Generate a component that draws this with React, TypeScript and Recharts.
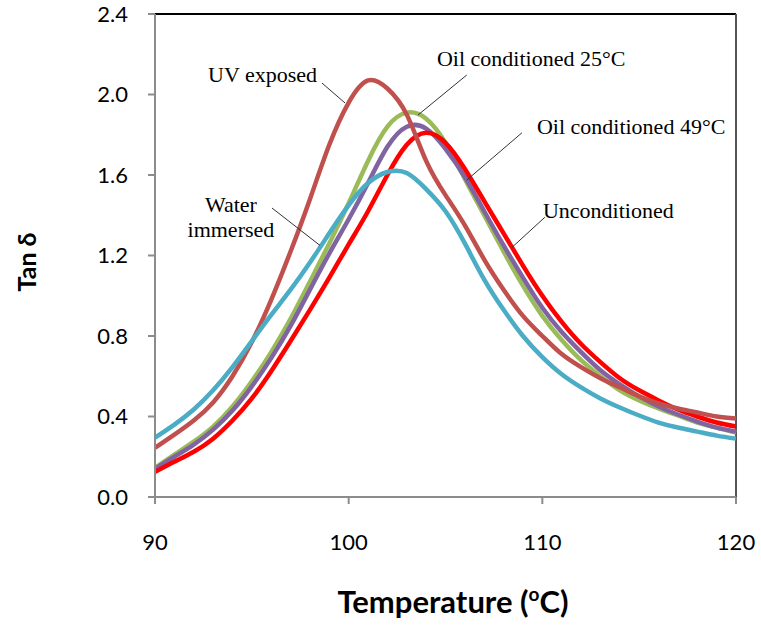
import { LineChart, Line, XAxis, YAxis, ReferenceLine, ReferenceDot } from "recharts";

// temperature (°C)
const temps = [
  90, 91, 92, 93, 94, 95, 96, 97, 98, 99, 100, 101, 102, 103, 104, 105,
  106, 107, 108, 109, 110, 111, 112, 113, 114, 115, 116, 117, 118, 119, 120,
];

// tan delta per sample
const unconditioned = [
  0.125, 0.175, 0.225, 0.29, 0.38, 0.49, 0.625, 0.775, 0.93, 1.09, 1.255, 1.42, 1.6, 1.75, 1.81, 1.76,
  1.63, 1.47, 1.31, 1.15, 1.0, 0.87, 0.76, 0.67, 0.59, 0.53, 0.48, 0.435, 0.4, 0.37, 0.35,
];
const oil25 = [
  0.145, 0.21, 0.275, 0.35, 0.45, 0.575, 0.72, 0.885, 1.07, 1.26, 1.46, 1.67, 1.84, 1.91, 1.88, 1.76,
  1.58, 1.4, 1.22, 1.05, 0.9, 0.78, 0.68, 0.6, 0.53, 0.48, 0.44, 0.405, 0.37, 0.345, 0.32,
];
const oil49 = [
  0.14, 0.2, 0.26, 0.335, 0.43, 0.55, 0.69, 0.85, 1.03, 1.21, 1.38, 1.56, 1.74, 1.84, 1.83, 1.73,
  1.59, 1.42, 1.25, 1.09, 0.94, 0.82, 0.72, 0.63, 0.56, 0.5, 0.45, 0.41, 0.375, 0.345, 0.325,
];
const uvExposed = [
  0.245, 0.31, 0.38, 0.47, 0.6, 0.77, 0.98, 1.22, 1.48, 1.75, 1.96, 2.07, 2.03, 1.9, 1.67, 1.5,
  1.35, 1.18, 1.03, 0.9, 0.8, 0.71, 0.645, 0.59, 0.545, 0.5, 0.465, 0.44, 0.42, 0.4, 0.39,
];
const waterImmersed = [
  0.295, 0.36, 0.435, 0.53, 0.645, 0.775, 0.905, 1.03, 1.165, 1.31, 1.45, 1.56, 1.615, 1.61, 1.53, 1.42,
  1.26, 1.08, 0.93, 0.8, 0.695, 0.61, 0.545, 0.49, 0.445, 0.405, 0.37, 0.345, 0.325, 0.305, 0.29,
];

const xTicks = [90, 100, 110, 120];
const yTicks = [0, 0.4, 0.8, 1.2, 1.6, 2.0, 2.4];

const data = temps.map((t, i) => ({
  t,
  unconditioned: unconditioned[i],
  oil25: oil25[i],
  oil49: oil49[i],
  uv: uvExposed[i],
  water: waterImmersed[i],
}));

// callouts: text anchor + leader line, in data units
const notes = [
  { lines: ["UV exposed"], x: 92.74, y: 2.062, from: [98.62, 2.057], to: [99.81, 1.958] },
  { lines: ["Oil conditioned 25°C"], x: 104.56, y: 2.142, from: [106.1, 2.097], to: [103.58, 1.898] },
  { lines: ["Oil conditioned 49°C"], x: 109.72, y: 1.804, from: [108.95, 1.81], to: [106.1, 1.575] },
  { lines: ["Unconditioned"], x: 110.03, y: 1.386, from: [110.13, 1.39], to: [108.43, 1.24] },
  { lines: ["Water", "immersed"], x: 93.92, y: 1.416, from: [96.04, 1.436], to: [98.52, 1.25] },
];

const serif = "'Liberation Serif', 'DejaVu Serif', serif";
const sans = "Lato, 'Open Sans', sans-serif";

const Note = ({ cx, cy, lines }: any) => (
  <text x={cx} y={cy} fontFamily={serif} fontSize={22} fill="#000">
    {lines.map((l: string, i: number) => (
      <tspan key={i} x={cx} dy={i === 0 ? 0 : 25} textAnchor={lines.length > 1 ? "middle" : "start"}>
        {l}
      </tspan>
    ))}
  </text>
);

export default function App() {
  return (
    <div style={{ position: "absolute", left: 0, top: 0, background: "#fff" }}>
      <LineChart width={761} height={628} data={data} margin={{ top: 14, right: 25, bottom: 0, left: 95 }}>
        <XAxis
          dataKey="t"
          type="number"
          domain={[90, 120]}
          ticks={xTicks}
          stroke="#8c8c8c"
          strokeWidth={2}
          tickSize={7}
          tickMargin={30}
          height={131}
          tick={{ fill: "#000", fontSize: 22, fontFamily: sans }}
        />
        <YAxis
          type="number"
          domain={[0, 2.4]}
          ticks={yTicks}
          width={60}
          stroke="#8c8c8c"
          strokeWidth={2}
          tickSize={7}
          tickMargin={20}
          tickFormatter={(v: number) => v.toFixed(1)}
          tick={{ fill: "#000", fontSize: 22, fontFamily: sans }}
        />
        <ReferenceLine y={2.4} stroke="#000" strokeWidth={2} />
        <ReferenceLine x={120} stroke="#555" strokeWidth={2} />

        <Line dataKey="oil25" stroke="#9BBB59" strokeWidth={4.5} dot={false} type="natural" isAnimationActive={false} />
        <Line dataKey="oil49" stroke="#8064A2" strokeWidth={4.5} dot={false} type="natural" isAnimationActive={false} />
        <Line dataKey="unconditioned" stroke="#FF0000" strokeWidth={4.5} dot={false} type="natural" isAnimationActive={false} />
        <Line dataKey="uv" stroke="#C0504D" strokeWidth={4.5} dot={false} type="natural" isAnimationActive={false} />
        <Line dataKey="water" stroke="#4BACC6" strokeWidth={4.5} dot={false} type="natural" isAnimationActive={false} />

        {notes.map((n, i) => (
          <ReferenceLine
            key={"l" + i}
            segment={[
              { x: n.from[0], y: n.from[1] },
              { x: n.to[0], y: n.to[1] },
            ]}
            stroke="#333"
            strokeWidth={1}
          />
        ))}
        {notes.map((n, i) => (
          <ReferenceDot key={"t" + i} x={n.x} y={n.y} r={0} shape={(p: any) => <Note {...p} lines={n.lines} />} />
        ))}

        <text x={36} y={262} transform="rotate(-90 36 262)" textAnchor="middle" fontFamily={sans} fontWeight="bold" fontSize={25}>
          Tan δ
        </text>
        <text x={453} y={613} textAnchor="middle" fontFamily={sans} fontWeight="bold" fontSize={31}>
          Temperature (<tspan dy={-12} fontSize={19}>o</tspan>
          <tspan dy={12}>C)</tspan>
        </text>
      </LineChart>
    </div>
  );
}
